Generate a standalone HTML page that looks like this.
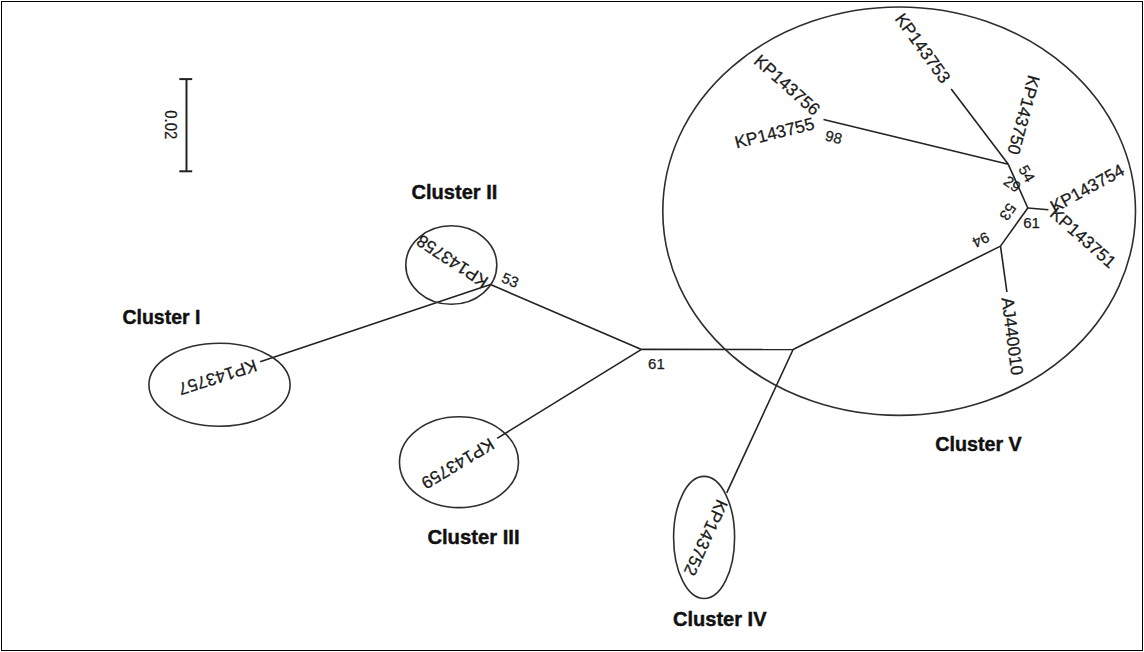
<!DOCTYPE html>
<html><head><meta charset="utf-8"><style>
html,body{margin:0;padding:0;background:#fff;}
svg{display:block;font-family:"Liberation Sans",sans-serif;}
</style></head><body>
<svg width="1144" height="652" viewBox="0 0 1144 652">
<rect width="1144" height="652" fill="#fff"/>
<rect x="1.5" y="1.5" width="1141" height="649" fill="none" stroke="#000" stroke-width="1"/>
<line x1="186.5" y1="79" x2="186.5" y2="171.3" stroke="#222" stroke-width="2"/>
<line x1="179.3" y1="79.1" x2="192.2" y2="79.1" stroke="#222" stroke-width="2"/>
<line x1="179.3" y1="171.3" x2="192.2" y2="171.3" stroke="#222" stroke-width="2"/>
<text transform="translate(171.20,124.75) rotate(90) scale(0.9,1)" dy="0.36em" text-anchor="middle" font-size="16.5" fill="#1a1a1a" stroke="#1a1a1a" stroke-width="0.25">0.02</text>
<line x1="641.5" y1="349.4" x2="793.1" y2="349.5" stroke="#222" stroke-width="1.6"/>
<line x1="641.5" y1="349.4" x2="490.5" y2="284.6" stroke="#222" stroke-width="1.6"/>
<line x1="490.5" y1="284.6" x2="260.2" y2="361.8" stroke="#222" stroke-width="1.6"/>
<line x1="641.5" y1="349.4" x2="497.1" y2="438.4" stroke="#222" stroke-width="1.6"/>
<line x1="793.1" y1="349.5" x2="1000.5" y2="246.1" stroke="#222" stroke-width="1.6"/>
<line x1="793.1" y1="349.5" x2="726.7" y2="492.8" stroke="#222" stroke-width="1.6"/>
<line x1="1000.5" y1="246.1" x2="1006.9" y2="292" stroke="#222" stroke-width="1.6"/>
<line x1="1000.5" y1="246.1" x2="1027.8" y2="208" stroke="#222" stroke-width="1.6"/>
<line x1="1027.8" y1="208" x2="1048.4" y2="209.8" stroke="#222" stroke-width="1.6"/>
<line x1="1027.8" y1="208" x2="1008.3" y2="164.3" stroke="#222" stroke-width="1.6"/>
<line x1="1008.3" y1="164.3" x2="823.5" y2="119.5" stroke="#222" stroke-width="1.6"/>
<line x1="1008.3" y1="164.3" x2="951.2" y2="88.9" stroke="#222" stroke-width="1.6"/>
<ellipse cx="219.5" cy="384.8" rx="70.6" ry="41.5" fill="none" stroke="#2e2e2e" stroke-width="1.6"/>
<ellipse cx="451.3" cy="265.05" rx="45.5" ry="39.25" fill="none" stroke="#2e2e2e" stroke-width="1.6"/>
<ellipse cx="459.0" cy="462.2" rx="59.5" ry="45.4" fill="none" stroke="#2e2e2e" stroke-width="1.6"/>
<ellipse cx="704.1" cy="537.45" rx="30.5" ry="61.05" fill="none" stroke="#2e2e2e" stroke-width="1.6"/>
<ellipse cx="899.15" cy="211.2" rx="236.35" ry="204.2" fill="none" stroke="#2e2e2e" stroke-width="1.6"/>
<text transform="translate(256.39,365.21) rotate(162.35)" dy="0.36em" text-anchor="start" font-size="17.4" fill="#1a1a1a" stroke="#1a1a1a" stroke-width="0.25">KP143757</text>
<text transform="translate(486.20,283.69) rotate(213.13)" dy="0.36em" text-anchor="start" font-size="17.4" fill="#1a1a1a" stroke="#1a1a1a" stroke-width="0.25">KP143758</text>
<text transform="translate(492.73,442.96) rotate(148.89)" dy="0.36em" text-anchor="start" font-size="17.4" fill="#1a1a1a" stroke="#1a1a1a" stroke-width="0.25">KP143759</text>
<text transform="translate(722.97,500.81) rotate(114.58)" dy="0.36em" text-anchor="start" font-size="17.4" fill="#1a1a1a" stroke="#1a1a1a" stroke-width="0.25">KP143752</text>
<text transform="translate(1007.70,297.43) rotate(82.71)" dy="0.36em" text-anchor="start" font-size="17.4" fill="#1a1a1a" stroke="#1a1a1a" stroke-width="0.25">AJ440010</text>
<text transform="translate(1052.92,210.62) rotate(41.5)" dy="0.36em" text-anchor="start" font-size="17.4" fill="#1a1a1a" stroke="#1a1a1a" stroke-width="0.25">KP143751</text>
<text transform="translate(1051.47,207.48) rotate(-28.7)" dy="0.36em" text-anchor="start" font-size="17.4" fill="#1a1a1a" stroke="#1a1a1a" stroke-width="0.25">KP143754</text>
<text transform="translate(1013.23,154.32) rotate(105.27)" dy="0.36em" text-anchor="end" font-size="17.4" fill="#1a1a1a" stroke="#1a1a1a" stroke-width="0.25">KP143750</text>
<text transform="translate(946.68,80.90) rotate(54.25)" dy="0.36em" text-anchor="end" font-size="17.4" fill="#1a1a1a" stroke="#1a1a1a" stroke-width="0.25">KP143753</text>
<text transform="translate(817.69,111.81) rotate(41.65)" dy="0.36em" text-anchor="end" font-size="17.4" fill="#1a1a1a" stroke="#1a1a1a" stroke-width="0.25">KP143756</text>
<text transform="translate(813.88,122.90) rotate(-13.93)" dy="0.36em" text-anchor="end" font-size="17.4" fill="#1a1a1a" stroke="#1a1a1a" stroke-width="0.25">KP143755</text>
<text transform="translate(510.30,280.00) rotate(22.6) scale(1,1)" dy="0.36em" text-anchor="middle" font-size="15" fill="#1a1a1a" stroke="#1a1a1a" stroke-width="0.25">53</text>
<text transform="translate(656.40,363.20) rotate(0) scale(1,1)" dy="0.36em" text-anchor="middle" font-size="15" fill="#1a1a1a" stroke="#1a1a1a" stroke-width="0.25">61</text>
<text transform="translate(981.00,240.00) rotate(153.6) scale(1,1)" dy="0.36em" text-anchor="middle" font-size="15" fill="#1a1a1a" stroke="#1a1a1a" stroke-width="0.25">94</text>
<text transform="translate(1008.00,212.00) rotate(124) scale(1,1)" dy="0.36em" text-anchor="middle" font-size="15" fill="#1a1a1a" stroke="#1a1a1a" stroke-width="0.25">53</text>
<text transform="translate(1031.50,222.80) rotate(0) scale(1,1)" dy="0.36em" text-anchor="middle" font-size="15" fill="#1a1a1a" stroke="#1a1a1a" stroke-width="0.25">61</text>
<text transform="translate(1012.40,183.90) rotate(35) scale(1,1)" dy="0.36em" text-anchor="middle" font-size="15" fill="#1a1a1a" stroke="#1a1a1a" stroke-width="0.25">29</text>
<text transform="translate(1026.90,173.60) rotate(60) scale(1,1)" dy="0.36em" text-anchor="middle" font-size="15" fill="#1a1a1a" stroke="#1a1a1a" stroke-width="0.25">54</text>
<text transform="translate(833.70,137.00) rotate(13.6) scale(1,1)" dy="0.36em" text-anchor="middle" font-size="15" fill="#1a1a1a" stroke="#1a1a1a" stroke-width="0.25">98</text>
<text x="122.5" y="323.6" font-size="21" font-weight="bold" textLength="77.9" lengthAdjust="spacingAndGlyphs" fill="#111" stroke="#111" stroke-width="0.45">Cluster I</text>
<text x="411.6" y="198.6" font-size="21" font-weight="bold" textLength="85.7" lengthAdjust="spacingAndGlyphs" fill="#111" stroke="#111" stroke-width="0.45">Cluster II</text>
<text x="427.4" y="544.3" font-size="21" font-weight="bold" textLength="92.2" lengthAdjust="spacingAndGlyphs" fill="#111" stroke="#111" stroke-width="0.45">Cluster III</text>
<text x="673.1" y="625.7" font-size="21" font-weight="bold" textLength="93.4" lengthAdjust="spacingAndGlyphs" fill="#111" stroke="#111" stroke-width="0.45">Cluster IV</text>
<text x="935.2" y="450.6" font-size="21" font-weight="bold" textLength="86.6" lengthAdjust="spacingAndGlyphs" fill="#111" stroke="#111" stroke-width="0.45">Cluster V</text>
</svg></body></html>
